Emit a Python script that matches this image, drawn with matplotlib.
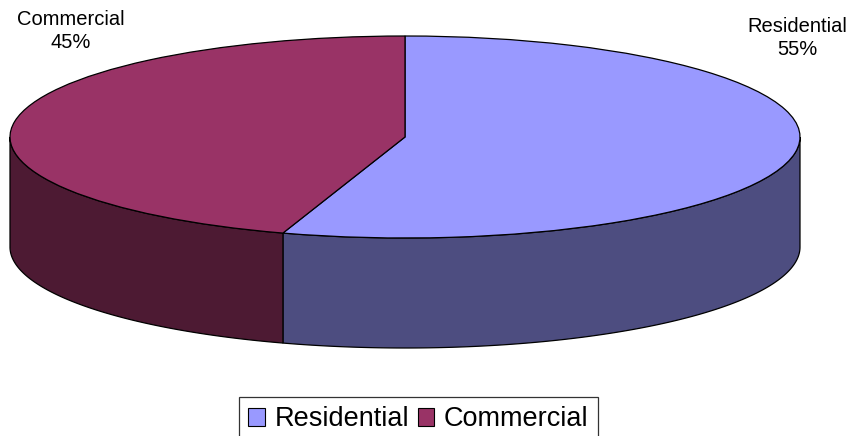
import numpy as np
import matplotlib
matplotlib.use("Agg")
import matplotlib.pyplot as plt
import matplotlib.colors as mcolors
from matplotlib.patches import Polygon, Rectangle
from matplotlib.transforms import Affine2D

# === Data ===
categories = ["Residential", "Commercial"]
shares = [55, 45]
top_colors = ["#9999FF", "#993366"]

# === Layout (pixels of the 855x436 output) ===
W, H = 855, 436
CX, CY = 405, 137        # centre of the top ellipse
RX, RY = 395, 101        # radii of the top ellipse
DEPTH = 110              # thickness of the pie

plt.rcParams["font.family"] = ["Liberation Sans", "DejaVu Sans"]

fig = plt.figure(figsize=(W / 100, H / 100), dpi=100)
ax = fig.add_axes([0, 0, 1, 1])
# unit circle of the pie = RX pixels, same scale on both axes
ax.set_xlim(-CX / RX, (W - CX) / RX)
ax.set_ylim(-(H - CY) / RX, CY / RX)
ax.set_aspect("auto")
ax.axis("off")

tilt = RY / RX
depth = DEPTH / RX

# top of the pie, squashed into an ellipse
wedges, _ = ax.pie(shares, colors=top_colors, startangle=90, counterclock=False,
                   wedgeprops=dict(edgecolor="black", linewidth=0.9), normalize=True)
squash = Affine2D().scale(1, tilt)
for w in wedges:
    w.set_transform(squash + ax.transData)
    w.set_zorder(3)
ax.set_xlim(-CX / RX, (W - CX) / RX)
ax.set_ylim(-(H - CY) / RX, CY / RX)

# front side walls (only the lower half of the ellipse is visible)
for w, col in zip(wedges, top_colors):
    t1, t2 = sorted([w.theta1, w.theta2])
    # bring range into [180, 360] window where possible
    for shift in (-360, 0, 360):
        a = max(t1 + shift, 180)
        b = min(t2 + shift, 360)
        if b <= a:
            continue
        th = np.radians(np.linspace(a, b, 200))
        xs = np.cos(th)
        ys = tilt * np.sin(th)
        pts = np.concatenate([np.column_stack([xs, ys]),
                              np.column_stack([xs[::-1], ys[::-1] - depth])])
        side = np.array(mcolors.to_rgb(col)) * 0.5
        ax.add_patch(Polygon(pts, closed=True, facecolor=side,
                             edgecolor="black", linewidth=0.9, zorder=2))

# labels
def px(x, y):
    return x / W, 1 - y / H

fig.text(*px(71, 31), "Commercial\n45%", ha="center", va="center",
         fontsize=14.5, linespacing=1.3)
fig.text(*px(797, 38), "Residential\n55%", ha="center", va="center",
         fontsize=14.5, linespacing=1.3)

# legend
handles = [Rectangle((0, 0), 1, 1, facecolor=c, edgecolor="black", linewidth=0.8)
           for c in top_colors]
leg = fig.legend(handles, categories, loc="upper center", ncol=2,
                 bbox_to_anchor=px(418.5, 397), fontsize=19.5, frameon=True,
                 fancybox=False, handlelength=0.6, handleheight=0.6,
                 handletextpad=0.38, columnspacing=0.3, borderpad=0.35,
                 borderaxespad=0)
leg.get_frame().set_edgecolor("black")
leg.get_frame().set_linewidth(0.9)

fig.savefig("out.png", dpi=100)
